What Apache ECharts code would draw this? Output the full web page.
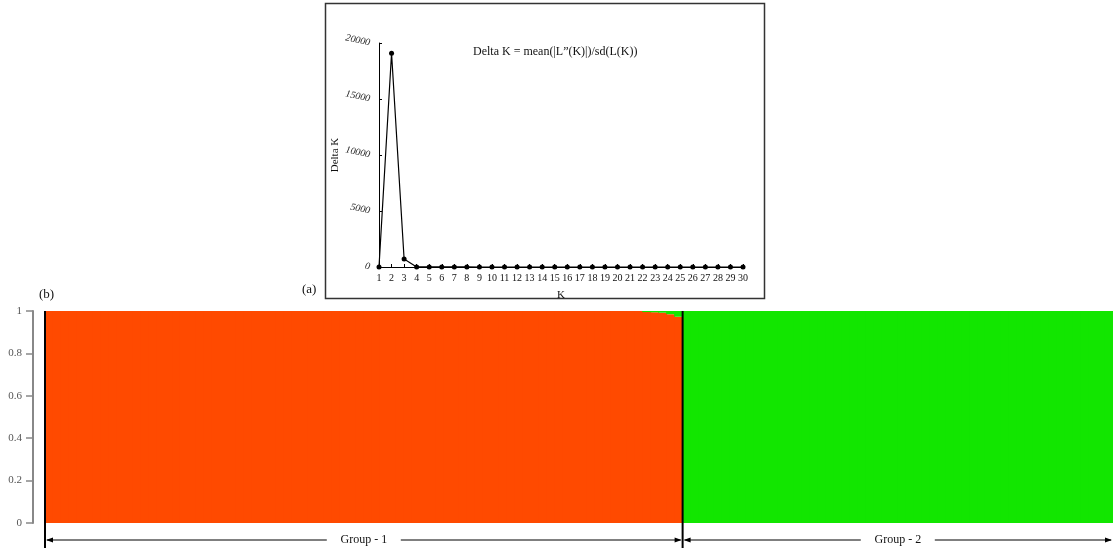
<!DOCTYPE html>
<html><head><meta charset="utf-8">
<script src="https://cdn.jsdelivr.net/npm/echarts@6/dist/echarts.min.js"></script>
<style>html,body{margin:0;padding:0;background:#fff}#c{width:1113px;height:550px}</style>
</head><body><div id="c"></div>
<script>
// ---- Data: panel (a) Delta K by K ----
const kLabels = ['1','2','3','4','5','6','7','8','9','10','11','12','13','14','15','16','17','18','19','20','21','22','23','24','25','26','27','28','29','30'];
const deltaK = [0,19080,720,10,6,4,3,3,2,2,2,2,2,2,2,2,2,2,2,2,2,2,2,2,2,2,2,2,2,2];
const yTicksA = [0,5000,10000,15000,20000];

// ---- Data: panel (b) ancestry proportions per individual ----
const group1Orange = [
1,1,1,1,1,1,1,1,1,1,1,1,1,1,1,1,1,1,1,1,
1,1,1,1,1,1,1,1,1,1,1,1,1,1,1,1,1,1,1,1,
1,1,1,1,1,1,1,1,1,1,1,1,1,1,1,1,1,1,1,1,
1,1,1,1,1,1,1,1,1,1,1,1,1,1,1,0.995,0.994,0.992,0.985,0.973];
const group1Green = [
0,0,0,0,0,0,0,0,0,0,0,0,0,0,0,0,0,0,0,0,
0,0,0,0,0,0,0,0,0,0,0,0,0,0,0,0,0,0,0,0,
0,0,0,0,0,0,0,0,0,0,0,0,0,0,0,0,0,0,0,0,
0,0,0,0,0,0,0,0,0,0,0,0,0,0,0,0.005,0.006,0.008,0.015,0.027];
const group2Orange = [
0,0,0,0,0,0,0,0,0,0,0,0,0,0,0,0,0,0,0,0,
0,0,0,0,0,0,0,0,0,0,0,0,0,0,0,0,0,0,0,0,
0,0,0,0,0,0,0,0,0,0,0,0,0,0];
const group2Green = [
1,1,1,1,1,1,1,1,1,1,1,1,1,1,1,1,1,1,1,1,
1,1,1,1,1,1,1,1,1,1,1,1,1,1,1,1,1,1,1,1,
1,1,1,1,1,1,1,1,1,1,1,1,1,1];
const groupNames = ['Group - 1','Group - 2'];

const orange = group1Orange.concat(group2Orange);
const green = group1Green.concat(group2Green);
const individuals = orange.map((_, i) => 'ind' + (i + 1));

const SERIF = '"Liberation Serif","DejaVu Serif",serif';
const chart = echarts.init(document.getElementById('c'), null, {renderer: 'canvas'});

chart.setOption({
  animation: false,
  backgroundColor: '#fff',
  title: {
    text: 'Delta K = mean(|L\u201d(K)|)/sd(L(K))',
    left: 468, top: 41,
    textStyle: {fontFamily: SERIF, fontSize: 12, fontWeight: 'normal', color: '#111'}
  },
  grid: [
    {left: 379, right: 370, top: 43, bottom: 283},
    {left: 45, right: 0, top: 311, bottom: 27}
  ],
  xAxis: [
    {
      gridIndex: 0, type: 'category', data: kLabels, boundaryGap: false,
      name: 'K', nameLocation: 'middle', nameGap: 23,
      nameTextStyle: {fontFamily: SERIF, fontSize: 11, color: '#111'},
      axisLine: {show: true, lineStyle: {color: '#000', width: 1}},
      axisTick: {show: true, inside: true, length: 3, lineStyle: {color: '#000'}},
      axisLabel: {interval: 0, fontFamily: SERIF, fontSize: 10, color: '#111', margin: 6}
    },
    {
      gridIndex: 1, type: 'category', data: individuals,
      show: false
    }
  ],
  yAxis: [
    {
      gridIndex: 0, type: 'value', min: 0, max: 20000, interval: 5000,
      name: 'Delta K', nameLocation: 'middle', nameGap: 36,
      nameTextStyle: {fontFamily: SERIF, fontSize: 11, color: '#111'},
      axisLine: {show: true, lineStyle: {color: '#000', width: 1}},
      axisTick: {show: true, inside: true, length: 3, lineStyle: {color: '#000'}},
      splitLine: {show: false},
      axisLabel: {fontFamily: SERIF, fontSize: 10, fontStyle: 'italic', color: '#222', rotate: -12, margin: 9,
        formatter: v => yTicksA.includes(v) ? String(v) : ''}
    },
    {
      gridIndex: 1, type: 'value', min: 0, max: 1, interval: 0.2, offset: 12,
      axisLine: {show: true, lineStyle: {color: '#888', width: 2}},
      axisTick: {show: true, length: 7, lineStyle: {color: '#888', width: 1.5}},
      splitLine: {show: false},
      axisLabel: {fontFamily: SERIF, fontSize: 11, color: '#555', margin: 11,
        formatter: v => (v === 0 || v === 1) ? String(v) : v.toFixed(1)}
    }
  ],
  series: [
    {
      type: 'line', xAxisIndex: 0, yAxisIndex: 0, data: deltaK,
      symbol: 'circle', symbolSize: 5,
      lineStyle: {color: '#000', width: 1.2},
      itemStyle: {color: '#000'}
    },
    {
      id: 'orange', type: 'bar', xAxisIndex: 1, yAxisIndex: 1, stack: 'q', data: orange,
      barCategoryGap: '0%', itemStyle: {color: '#FF4A00'}
    },
    {
      id: 'green', type: 'bar', xAxisIndex: 1, yAxisIndex: 1, stack: 'q', data: green,
      barCategoryGap: '0%', itemStyle: {color: '#12E600'}
    }
  ]
});

// ---- annotations computed from the library's scales ----
const px = (i) => chart.convertToPixel({xAxisIndex: 1}, individuals[i]);
const band = px(1) - px(0);
// widen each bar slightly so neighbouring bars overlap (no hairline seams)
chart.setOption({series: [{id: 'orange', barWidth: band + 1}, {id: 'green', barWidth: band + 1}]});

const xLeft = px(0) - band / 2;
const xDiv = (px(group1Orange.length - 1) + px(group1Orange.length)) / 2;
const xRight = px(individuals.length - 1) + band / 2;
const yTop = chart.convertToPixel({yAxisIndex: 1}, 1);
const yZero = chart.convertToPixel({yAxisIndex: 1}, 0);
const yArrow = yZero + 17;
const yEnd = yZero + 25;

function arrowGroup(x1, x2, label) {
  const mid = (x1 + x2) / 2;
  const halfGap = 37;
  const els = [];
  const ls = {stroke: '#000', lineWidth: 1};
  els.push({type: 'line', shape: {x1: x1 + 2, y1: yArrow, x2: mid - halfGap, y2: yArrow}, style: ls});
  els.push({type: 'line', shape: {x1: mid + halfGap, y1: yArrow, x2: x2 - 2, y2: yArrow}, style: ls});
  els.push({type: 'polygon', shape: {points: [[x1 + 1, yArrow], [x1 + 8, yArrow - 2.5], [x1 + 8, yArrow + 2.5]]}, style: {fill: '#000'}});
  els.push({type: 'polygon', shape: {points: [[x2 - 1, yArrow], [x2 - 8, yArrow - 2.5], [x2 - 8, yArrow + 2.5]]}, style: {fill: '#000'}});
  els.push({type: 'text', x: mid, y: yArrow, style: {text: label, fill: '#111', font: '12px ' + SERIF, align: 'center', verticalAlign: 'middle'}});
  return els;
}

const boxRect = {type: 'rect', shape: {x: 325.5, y: 3.5, width: 439, height: 295}, style: {fill: 'none', stroke: '#333', lineWidth: 1.5}, z: -1};

chart.setOption({
  graphic: [
    boxRect,
    {type: 'text', x: 302, y: 283, style: {text: '(a)', fill: '#111', font: '13px ' + SERIF}},
    {type: 'text', x: 39, y: 288, style: {text: '(b)', fill: '#111', font: '13px ' + SERIF}},
    {type: 'line', shape: {x1: xLeft, y1: yTop, x2: xLeft, y2: yEnd}, style: {stroke: '#000', lineWidth: 2}, z: 10},
    {type: 'line', shape: {x1: xDiv, y1: yTop, x2: xDiv, y2: yEnd}, style: {stroke: '#000', lineWidth: 2}, z: 10}
  ].concat(arrowGroup(xLeft, xDiv, groupNames[0]), arrowGroup(xDiv, xRight, groupNames[1]))
});
</script>
</body></html>
